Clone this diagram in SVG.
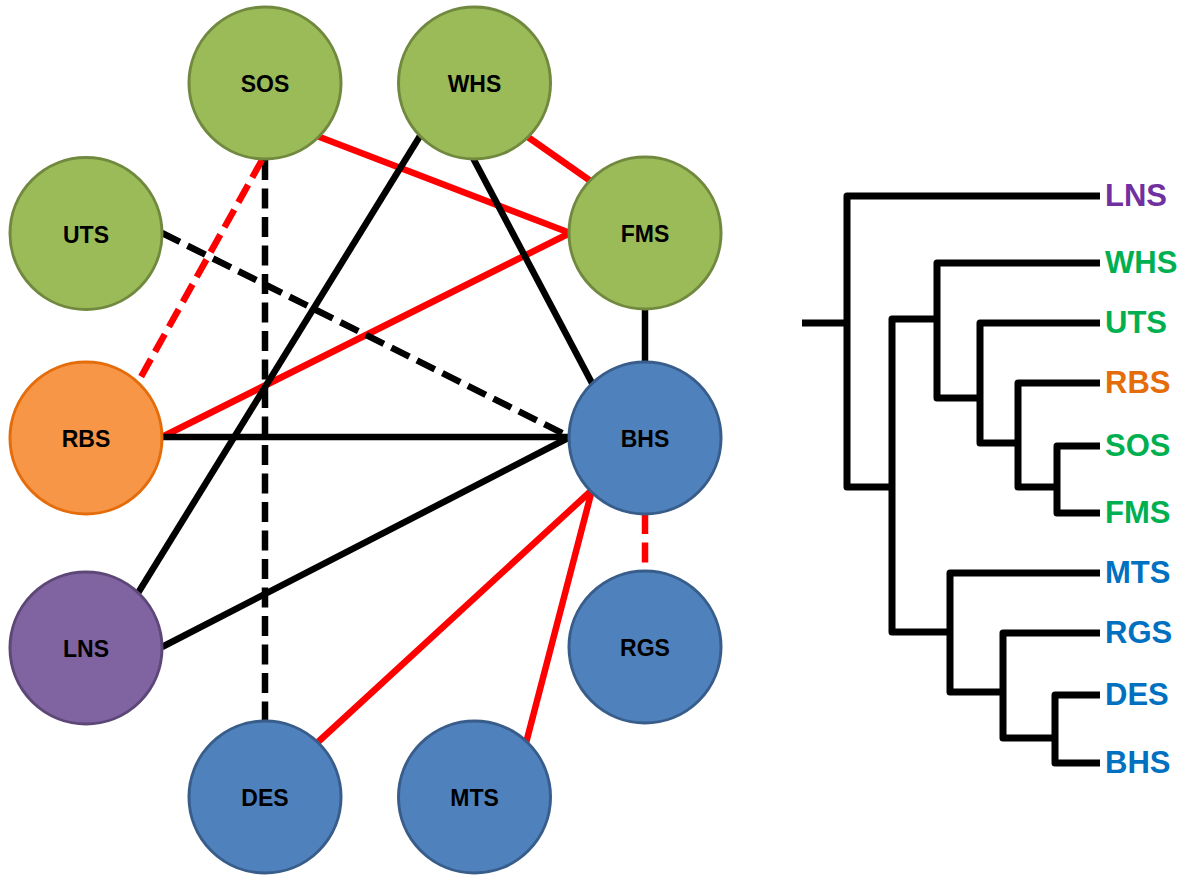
<svg xmlns="http://www.w3.org/2000/svg" width="1189" height="875" viewBox="0 0 1189 875">
<style>
.bg{fill:#ffffff}
.g{fill:#9BBB59;stroke:#71893F;stroke-width:3}
.o{fill:#F79646;stroke:#E46C0A;stroke-width:3}
.b{fill:#4F81BD;stroke:#385D8A;stroke-width:3}
.p{fill:#8064A2;stroke:#5C4776;stroke-width:3}
.nl{font-family:"Liberation Sans",Arial,sans-serif;font-weight:bold;font-size:23px;fill:#000;text-anchor:middle}
.k{stroke:#000;stroke-width:6.5;fill:none}
.r{stroke:#FF0000;stroke-width:6.5;fill:none}
.d{stroke-dasharray:20 8.5}
.t{stroke:#000;stroke-width:7;fill:none;stroke-linejoin:round;stroke-linecap:butt}
.tl{font-family:"Liberation Sans",Arial,sans-serif;font-weight:bold;font-size:31px}
.cp{fill:#7030A0}.cg{fill:#00B050}.co{fill:#E46C0A}.cb{fill:#0070C0}
</style>
<rect class="bg" x="0" y="0" width="1189" height="875"/>
<g id="connectors">
<line class="r" x1="317" y1="136" x2="570" y2="233"/>
<line class="r" x1="162" y1="437" x2="570" y2="233"/>
<line class="r" x1="525" y1="135" x2="592" y2="182"/>
<line class="k" x1="420" y1="136" x2="138" y2="593"/>
<line class="k" x1="473" y1="158" x2="593" y2="385"/>
<line class="k" x1="645" y1="310" x2="645" y2="362"/>
<line class="k" x1="162" y1="437" x2="570" y2="437"/>
<line class="k" x1="162" y1="647" x2="570" y2="437"/>
<line class="k d" x1="162" y1="233" x2="570" y2="437"/>
<line class="k d" x1="265" y1="160" x2="265" y2="720"/>
<line class="r d" x1="262" y1="160" x2="137" y2="384"/>
<line class="r d" x1="645" y1="514" x2="645" y2="571"/>
<line class="r" x1="592" y1="490" x2="318" y2="742"/>
<line class="r" x1="592" y1="490" x2="526" y2="743"/>
</g>
<g id="node-SOS"><circle class="g" cx="265" cy="83" r="76"/><text class="nl" x="265" y="92">SOS</text></g>
<g id="node-WHS"><circle class="g" cx="474.5" cy="83" r="76"/><text class="nl" x="474.5" y="92">WHS</text></g>
<g id="node-UTS"><circle class="g" cx="86" cy="233.5" r="76"/><text class="nl" x="86" y="242.5">UTS</text></g>
<g id="node-FMS"><circle class="g" cx="645" cy="233" r="76"/><text class="nl" x="645" y="242">FMS</text></g>
<g id="node-RBS"><circle class="o" cx="86" cy="438" r="76"/><text class="nl" x="86" y="447">RBS</text></g>
<g id="node-BHS"><circle class="b" cx="645" cy="438" r="76"/><text class="nl" x="645" y="447">BHS</text></g>
<g id="node-LNS"><circle class="p" cx="86" cy="648" r="76"/><text class="nl" x="86" y="657">LNS</text></g>
<g id="node-RGS"><circle class="b" cx="645" cy="647" r="76"/><text class="nl" x="645" y="656">RGS</text></g>
<g id="node-DES"><circle class="b" cx="265" cy="797" r="76"/><text class="nl" x="265" y="806">DES</text></g>
<g id="node-MTS"><circle class="b" cx="474.5" cy="797" r="76"/><text class="nl" x="474.5" y="806">MTS</text></g>
<g id="tree">
<line class="t" x1="802" y1="323" x2="847" y2="323"/>
<polyline class="t" points="1100,196 847,196 847,487 892,487"/>
<polyline class="t" points="937,319 892,319 892,632 950,632"/>
<polyline class="t" points="1100,263 937,263 937,398 980,398"/>
<polyline class="t" points="1100,323 980,323 980,443 1018,443"/>
<polyline class="t" points="1100,383 1018,383 1018,487 1057,487"/>
<polyline class="t" points="1100,446 1057,446 1057,513 1100,513"/>
<polyline class="t" points="1100,573 950,573 950,692 1003,692"/>
<polyline class="t" points="1100,633 1003,633 1003,738 1055,738"/>
<polyline class="t" points="1100,695 1055,695 1055,763 1100,763"/>
</g>
<g id="tree-labels">
<text class="tl cp" x="1105" y="206">LNS</text>
<text class="tl cg" x="1105" y="273">WHS</text>
<text class="tl cg" x="1105" y="333">UTS</text>
<text class="tl co" x="1105" y="393">RBS</text>
<text class="tl cg" x="1105" y="456">SOS</text>
<text class="tl cg" x="1105" y="523">FMS</text>
<text class="tl cb" x="1105" y="583">MTS</text>
<text class="tl cb" x="1105" y="643">RGS</text>
<text class="tl cb" x="1105" y="705">DES</text>
<text class="tl cb" x="1105" y="773">BHS</text>
</g>
</svg>
